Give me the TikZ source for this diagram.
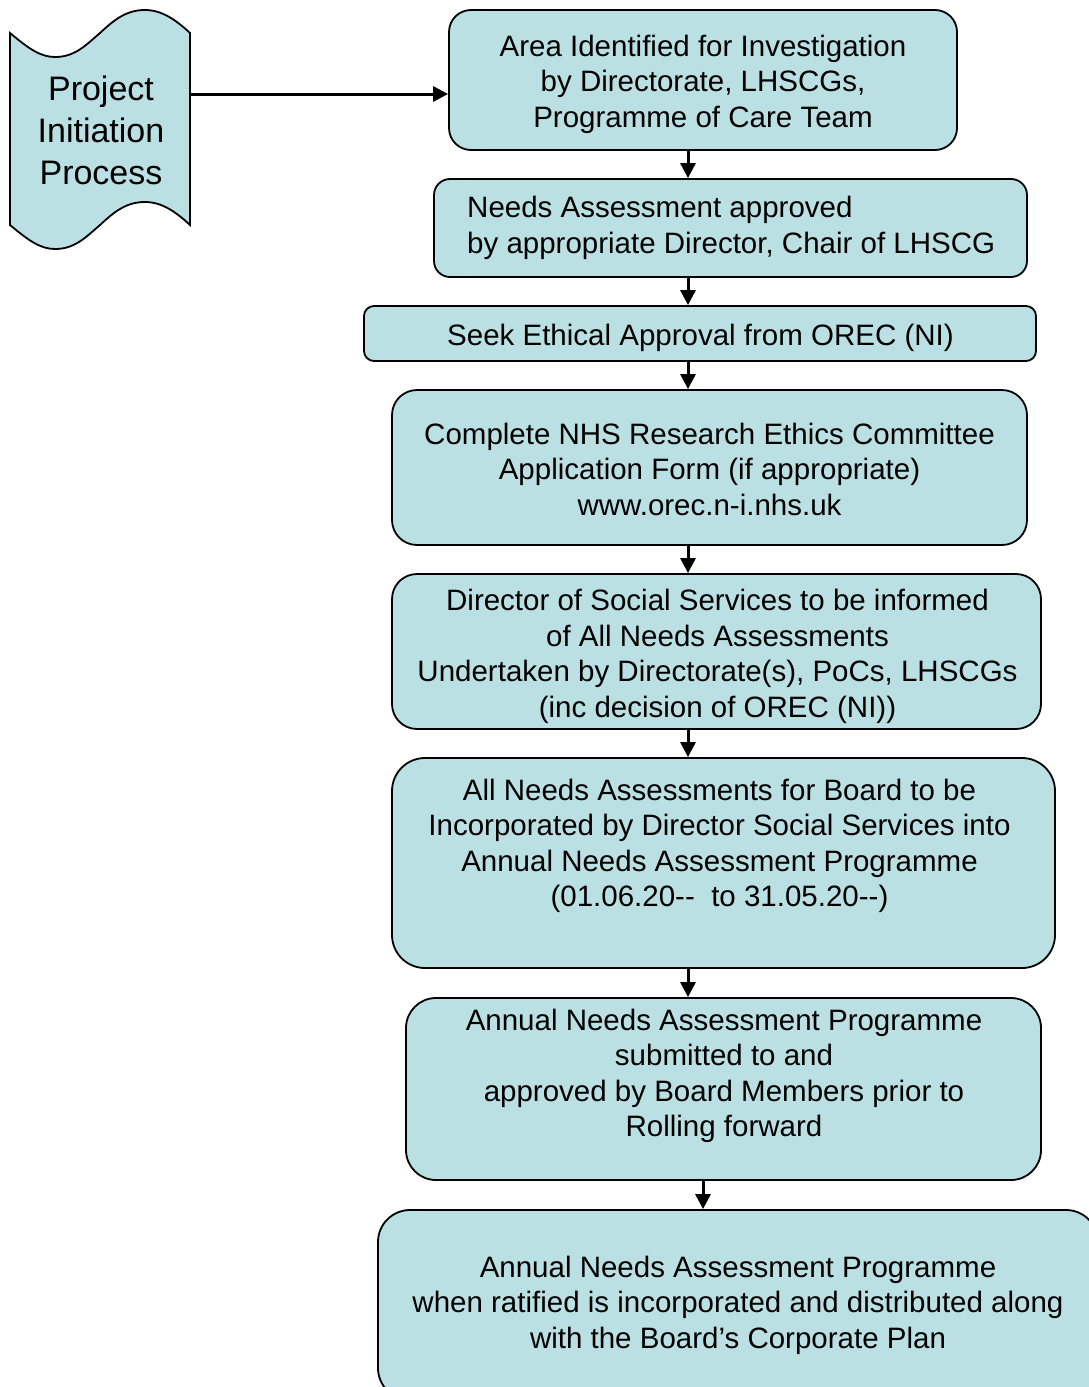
\documentclass[tikz,border=0pt]{standalone}
\usepackage{fontspec}
\setmainfont{Liberation Sans}
\usetikzlibrary{arrows.meta}
\definecolor{boxfill}{RGB}{187,224,227}
\begin{document}
\begin{tikzpicture}[x=1pt,y=-1pt,
  box/.style={draw=black, line width=1.8pt, fill=boxfill, rounded corners=#1, inner sep=0pt},
  box/.default=20pt,
  txt/.style={font=\fontsize{29.5}{35.5}\selectfont, align=center, inner sep=0pt},
  arr/.style={line width=3pt, -{Triangle[length=15pt,width=15pt]}}]
\useasboundingbox (0,0) rectangle (1089,1387);
\fill[white] (0,0) rectangle (1089,1387);

% tape shape
\filldraw[fill=boxfill, draw=black, line width=1.8pt]
  (10,33) .. controls (28,48) and (40,57) .. (55,57)
  .. controls (75,57) and (86,45) .. (100,33)
  .. controls (114,20) and (126,10) .. (145,10)
  .. controls (162,10) and (176,20) .. (190,33)
  -- (190,225)
  .. controls (176,212) and (162,202) .. (145,202)
  .. controls (126,202) and (114,212) .. (100,225)
  .. controls (86,237) and (75,249) .. (55,249)
  .. controls (40,249) and (28,240) .. (10,225) -- cycle;
\node[txt, font=\fontsize{34}{42}\selectfont, minimum width=180pt, minimum height=192pt] (tape) at (101,130) {Project\\Initiation\\Process};

% boxes
\node[box=22pt, minimum width=508pt, minimum height=140pt] (a) at (703,80) {};
\node[box=16pt, minimum width=593pt, minimum height=98pt] (b) at (730.5,228) {};
\node[box=10pt, minimum width=672pt, minimum height=55pt] (c) at (700,333.5) {};
\node[box=25pt, minimum width=635pt, minimum height=155pt] (d) at (709.5,467.5) {};
\node[box=25pt, minimum width=649pt, minimum height=155pt] (e) at (716.5,651.5) {};
\node[box=33pt, minimum width=663pt, minimum height=210pt] (f) at (723.5,863) {};
\node[box=30pt, minimum width=635pt, minimum height=182pt] (g) at (723.5,1089) {};
\node[box=32pt, minimum width=720pt, minimum height=190pt] (h) at (738,1305) {};

% texts
\node[txt] (ta) at (703,84) {Area Identified for Investigation\\by Directorate, LHSCGs,\\Programme of Care Team};
\node[txt, align=left, anchor=west] (tb) at (467,228) {Needs Assessment approved\\by appropriate Director, Chair of LHSCG};
\node[txt] (tc) at (700.5,338) {Seek Ethical Approval from OREC (NI)};
\node[txt] (td) at (709.5,469) {Complete NHS Research Ethics Committee\\Application Form (if appropriate)\\www.orec.n-i.nhs.uk};
\node[txt] (te) at (717.5,656.5) {Director of Social Services to be informed\\of All Needs Assessments\\Undertaken by Directorate(s), PoCs, LHSCGs\\(inc decision of OREC (NI))};
\node[txt] (tf) at (719.5,846) {All Needs Assessments for Board to be\\Incorporated by Director Social Services into\\Annual Needs Assessment Programme\\(01.06.20-{}-\ \ to 31.05.20-{}-)};
\node[txt] (tg) at (724,1076) {Annual Needs Assessment Programme\\submitted to and\\approved by Board Members prior to\\Rolling forward};
\node[txt] (th) at (738,1305) {Annual Needs Assessment Programme\\when ratified is incorporated and distributed along\\with the Board’s Corporate Plan};

% connectors
\coordinate (row) at (0,94);
\coordinate (col) at (688,0);
\coordinate (col2) at (703,0);
\draw[arr] (tape.east |- row) -- (a.west |- row);
\draw[arr] (a.south -| col) -- (b.north -| col);
\draw[arr] (b.south -| col) -- (c.north -| col);
\draw[arr] (c.south -| col) -- (d.north -| col);
\draw[arr] (d.south -| col) -- (e.north -| col);
\draw[arr] (e.south -| col) -- (f.north -| col);
\draw[arr] (f.south -| col) -- (g.north -| col);
\draw[arr] (g.south -| col2) -- (h.north -| col2);
\end{tikzpicture}
\end{document}
